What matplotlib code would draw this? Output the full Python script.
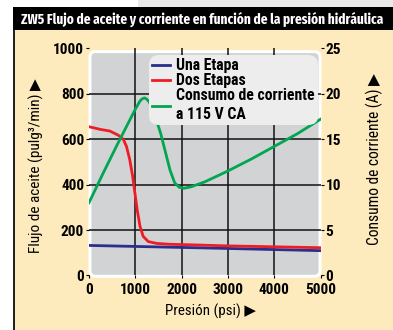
import matplotlib
matplotlib.use("Agg")
import matplotlib.pyplot as plt
from matplotlib.patches import FancyBboxPatch, Rectangle
from matplotlib.lines import Line2D

plt.rcParams['font.family'] = ['Roboto Condensed', 'DejaVu Sans']

# datos
pressure_ticks = [0, 1000, 2000, 3000, 4000, 5000]
flow_ticks = [0, 200, 400, 600, 800, 1000]
current_ticks = [0, 5, 10, 15, 20, 25]

una_psi = [0, 2500, 5000]
una_flow = [132, 121, 109]

dos_psi = [0, 250, 450, 630, 740, 810, 880, 940, 990, 1040, 1100, 1170,
           1280, 1460, 1750, 2000, 3000, 4000, 5000]
dos_flow = [655, 643, 636, 618, 600, 568, 510, 440, 365, 290, 218, 172,
            149, 141, 137, 136, 130, 126, 122]

corr_psi = [0, 300, 600, 800, 1000, 1100, 1150, 1200, 1250, 1300, 1350, 1450,
            1550, 1650, 1750, 1850, 1950, 2050, 2200, 2500, 3000, 3500, 4000,
            4500, 5000]
corr_amp = [8.0, 11.2, 14.3, 16.3, 18.3, 19.2, 19.45, 19.55, 19.4, 19.1, 18.6, 17.2,
            15.6, 13.6, 11.6, 10.2, 9.7, 9.6, 9.75, 10.3, 11.5, 12.8, 14.2,
            15.6, 17.2]

title = "ZW5 Flujo de aceite y corriente en función de la presión hidráulica"

W, H = 393, 330
fig = plt.figure(figsize=(W / 100, H / 100), dpi=100)
fig.patch.set_facecolor('white')

def box(x0, y0, x1, y1):
    return [x0 / W, 1 - y1 / H, (x1 - x0) / W, (y1 - y0) / H]

# fondo crema, barra negra del titulo y borde
for r in [Rectangle((138 / W, 1 - 7 / H), 1, 7 / H, facecolor='#e9e9eb'),
          Rectangle((13 / W, 0), 1, 1 - 30 / H, facecolor='#fdeabd'),
          Rectangle((13 / W, 1 - 30 / H), 1, 23 / H, facecolor='black'),
          Rectangle((13 / W, 0), 1.6 / W, 1 - 30 / H, facecolor='#222222')]:
    r.set_transform(fig.transFigure)
    r.set_edgecolor('none')
    r.set_zorder(-10)
    fig.add_artist(r)

t = fig.text(202 / W, 1 - 19 / H, title, color='white', fontsize=12,
             fontweight='bold', ha='center', va='center',
             family=['Fira Sans Extra Condensed', 'Roboto Condensed', 'DejaVu Sans'])
fig.canvas.draw()
wpx = t.get_window_extent().width
t.set_fontsize(12 * 362 / wpx)

ax = fig.add_axes(box(89, 48.4, 320.5, 275.4))
ax.patch.set_visible(False)
ax.add_patch(FancyBboxPatch((0.004, -0.004), 0.994, 0.99,
                            boxstyle='round,pad=0,rounding_size=0.025',
                            transform=ax.transAxes, facecolor='#d2d3d5',
                            edgecolor='white', linewidth=2.2, zorder=-2,
                            clip_on=False))
for x in pressure_ticks[1:-1]:
    ax.axvline(x, color='#111111', linewidth=1.1, zorder=0)
for y in flow_ticks[1:-1]:
    ax.axhline(y, color='#111111', linewidth=1.1, zorder=0)

ax.plot(una_psi, una_flow, color='#2b2e8c', linewidth=2.0, zorder=3)
ax.plot(dos_psi, dos_flow, color='#ee1d25', linewidth=2.0, zorder=3)

ax2 = ax.twinx()
ax2.plot(corr_psi, corr_amp, color='#00a651', linewidth=2.0, zorder=3)

ax.set_xlim(0, 5000)
ax.set_ylim(0, 1000)
ax2.set_ylim(0, 25)
ax.set_xticks(pressure_ticks)
ax.set_yticks(flow_ticks)
ax2.set_yticks(current_ticks)
for a in (ax, ax2):
    for s in a.spines.values():
        s.set_visible(False)
ax.tick_params(axis='y', length=2.5, width=0.8, pad=1, labelsize=11)
ax.tick_params(axis='x', length=2.5, width=0.8, pad=3, labelsize=11)
ax2.tick_params(axis='y', length=2.5, width=0.8, pad=1, labelsize=11)
for lab in ax.get_xticklabels() + ax.get_yticklabels() + ax2.get_yticklabels():
    lab.set_fontweight('bold')

handles = [Line2D([], [], color='#2b2e8c', linewidth=2.0),
           Line2D([], [], color='#ee1d25', linewidth=2.0),
           Line2D([], [], color='#00a651', linewidth=2.0)]
labels = ['Una Etapa', 'Dos Etapas', 'Consumo de corriente\na 115 V CA']
leg = ax2.legend(handles, labels, loc='upper right', bbox_to_anchor=(0.988, 0.97),
                 fancybox=True, framealpha=1, facecolor='#ededed', edgecolor='none',
                 prop={'weight': 'bold', 'size': 11.3}, handlelength=1.1,
                 handletextpad=0.4, labelspacing=0.0, borderpad=0.2,
                 borderaxespad=0)
leg.get_frame().set_boxstyle('round,pad=0,rounding_size=0.6')
for txt in leg.get_texts():
    txt.set_linespacing(1.3)

fig.text(36 / W, 1 - 166 / H, "Flujo de aceite (pulg³/min) ▶", rotation=90,
         fontsize=11, ha='center', va='center')
fig.text(374 / W, 1 - 159 / H, "Consumo de corriente (A) ▶", rotation=90,
         fontsize=11.2, ha='center', va='center')
fig.text(210 / W, 1 - 311 / H, "Presión (psi) ▶", fontsize=10.8,
         ha='center', va='center')

fig.savefig('out.png', dpi=100)
